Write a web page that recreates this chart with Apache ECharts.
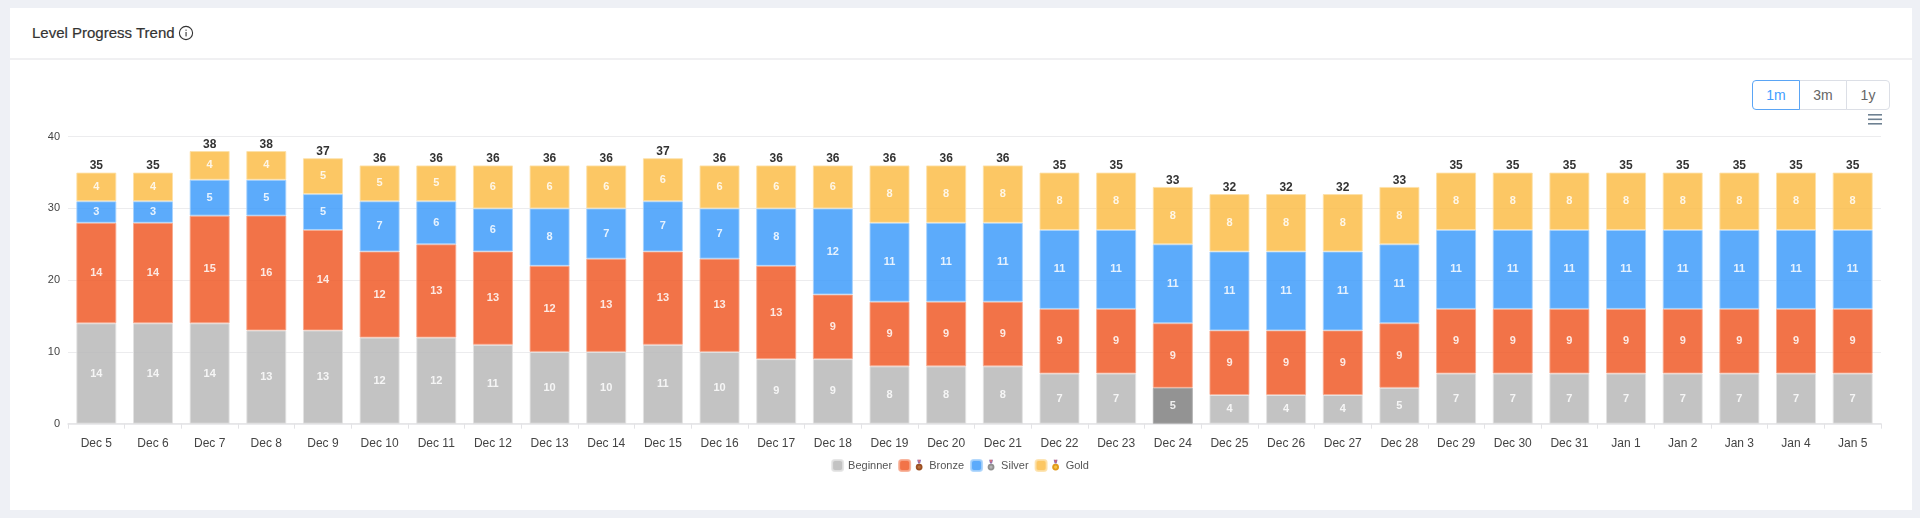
<!DOCTYPE html>
<html>
<head>
<meta charset="utf-8">
<script src="https://cdn.jsdelivr.net/npm/echarts@6/dist/echarts.min.js"></script>
<style>
html,body{margin:0;padding:0;width:1920px;height:518px;overflow:hidden;background:#eef0f5;font-family:"Liberation Sans",Arial,sans-serif}
#card{position:absolute;left:10px;top:8px;width:1902px;height:502px;background:#fff}
#head{position:absolute;left:10px;top:58px;width:1902px;height:2px;background:#f0f0f2}
#title{position:absolute;left:32px;top:24px;font-size:15px;line-height:18px;color:#333;font-weight:500;-webkit-text-stroke:0.2px #333;display:flex;align-items:center}
#title svg{margin-left:3px}
#main{position:absolute;left:0;top:0;width:1920px;height:518px}
#btns{position:absolute;left:1752px;top:80px;height:30px;display:flex;font-size:14px;color:#666}
#btns div{box-sizing:border-box;height:30px;line-height:28px;text-align:center;border:1px solid #dcdfe6;margin-left:-1px;background:#fff}
#btns .a{width:48px;margin-left:0;color:#409eff;border-color:#5aa5f5;border-radius:4px 0 0 4px;position:relative;z-index:1}
#btns .b{width:48px}
#btns .c{width:44px;border-radius:0 4px 4px 0}
</style>
</head>
<body>
<div id="card"></div>
<div id="head"></div>
<div id="title">Level Progress Trend
<svg width="16" height="16" viewBox="0 0 16 16"><circle cx="8" cy="8" r="6.6" fill="none" stroke="#333" stroke-width="1.1"/><rect x="7.5" y="7" width="1.1" height="4.4" fill="#333"/><rect x="7.5" y="4.6" width="1.1" height="1.2" fill="#333"/></svg></div>
<div id="main"></div>
<div id="btns"><div class="a">1m</div><div class="b">3m</div><div class="c">1y</div></div>
<script>
const categories = ["Dec 5","Dec 6","Dec 7","Dec 8","Dec 9","Dec 10","Dec 11","Dec 12","Dec 13","Dec 14","Dec 15","Dec 16","Dec 17","Dec 18","Dec 19","Dec 20","Dec 21","Dec 22","Dec 23","Dec 24","Dec 25","Dec 26","Dec 27","Dec 28","Dec 29","Dec 30","Dec 31","Jan 1","Jan 2","Jan 3","Jan 4","Jan 5"];
const beginner = [14,14,14,13,13,12,12,11,10,10,11,10,9,9,8,8,8,7,7,5,4,4,4,5,7,7,7,7,7,7,7,7];
const bronze = [14,14,15,16,14,12,13,13,12,13,13,13,13,9,9,9,9,9,9,9,9,9,9,9,9,9,9,9,9,9,9,9];
const silver = [3,3,5,5,5,7,6,6,8,7,7,7,8,12,11,11,11,11,11,11,11,11,11,11,11,11,11,11,11,11,11,11];
const gold = [4,4,4,4,5,5,5,6,6,6,6,6,6,6,8,8,8,8,8,8,8,8,8,8,8,8,8,8,8,8,8,8];
const totals = [35,35,38,38,37,36,36,36,36,36,37,36,36,36,36,36,36,35,35,33,32,32,32,33,35,35,35,35,35,35,35,35];
const yTicks = {min:0,max:40,interval:10};
const highlightIndex = 19;

function medal(c1,c2){
  const s='<svg xmlns="http://www.w3.org/2000/svg" width="24" height="36" viewBox="0 0 8 12"><path d="M2 0h1.4L4 3 4.6 0H6L5 4H3z" fill="#8b6fb5"/><path d="M3 0h2L4.4 3h-.8z" fill="#d8646a"/><circle cx="4" cy="7.6" r="3.4" fill="'+c1+'"/><circle cx="4" cy="7.6" r="1.6" fill="'+c2+'"/></svg>';
  return 'data:image/svg+xml;charset=utf-8,'+encodeURIComponent(s);
}
const medals = {
  Bronze: medal('#9c4f22','#b9703c'),
  Silver: medal('#8f8f8f','#b5b5b5'),
  Gold: medal('#e09a1c','#f6c445')
};
const rich = {t:{color:'#555',fontSize:11,padding:[1,0,0,0]},u:{color:'#555',fontSize:11,padding:[1,0,0,3]}};
Object.keys(medals).forEach(k=>{rich['m'+k]={width:8,height:12,backgroundColor:{image:medals[k]}}});

function barSeries(name,values,color,border){
  return {
    name, type:'bar', stack:'a', barWidth:40, data:values,
    itemStyle:{color,opacity:0.85,borderColor:border,borderWidth:1},
    label:{show:true,position:'inside',color:'#fff',fontSize:11,fontWeight:'bold',fontFamily:'"Liberation Sans",Arial,sans-serif'},
    emphasis:{disabled:true}
  };
}
const beginnerData = beginner.map((v,i)=> i===highlightIndex ? {value:v,itemStyle:{color:'#808080',opacity:0.85,borderColor:'#a8a8a8'}} : v);

const chart = echarts.init(document.getElementById('main'),null,{renderer:'canvas'});
chart.setOption({
  animation:false,
  backgroundColor:'transparent',
  textStyle:{fontFamily:'"Liberation Sans",Arial,sans-serif'},
  grid:{left:68,right:39,top:136.7,bottom:94.3,containLabel:false},
  legend:{
    data:['Beginner','Bronze','Silver','Gold'],
    top:454,left:'center',itemWidth:11,itemHeight:11,itemGap:6,
    itemStyle:{borderRadius:2},
    icon:'roundRect',
    textStyle:{color:'#555',fontSize:11,rich},
    formatter:n=> medals[n] ? '{m'+n+'|} {u|'+n+'}' : '{t|'+n+'}'
  },
  xAxis:{
    type:'category',data:categories,
    axisLine:{lineStyle:{color:'#e3e3e6',width:1.5}},
    axisTick:{show:true,length:5,lineStyle:{color:'#e3e3e6'}},
    axisLabel:{color:'#444',fontSize:12,margin:14,interval:0}
  },
  yAxis:{
    type:'value',min:yTicks.min,max:yTicks.max,interval:yTicks.interval,
    axisLine:{show:false},axisTick:{show:false},
    splitLine:{lineStyle:{color:'#ececee',width:1.2}},
    axisLabel:{color:'#444',fontSize:11,margin:8,verticalAlign:'middle',padding:[0,0,7,0]}
  },
  series:[
    barSeries('Beginner',beginnerData,'#b8b8b8','#e3e3e3'),
    barSeries('Bronze',bronze,'#f05a28','#f7a98e'),
    barSeries('Silver',silver,'#409cfa','#a8d2fc'),
    barSeries('Gold',gold,'#fbbd49','#fde0a8'),
    {name:'Total',type:'line',data:totals,symbol:'circle',symbolSize:1,showSymbol:true,showAllSymbol:true,
     itemStyle:{color:'rgba(0,0,0,0)'},lineStyle:{width:0,color:'rgba(0,0,0,0)'},silent:true,
     label:{show:true,position:'top',distance:0,color:'#333',fontSize:12,fontWeight:'bold'},
     labelLayout:{hideOverlap:false}}
  ],
  graphic:[
    {type:'group',left:1868,top:114,children:[0,4.5,9].map(y=>({type:'rect',shape:{x:0,y,width:14,height:1.6},style:{fill:'#6e8192'}}))}
  ]
});
</script>
</body>
</html>
